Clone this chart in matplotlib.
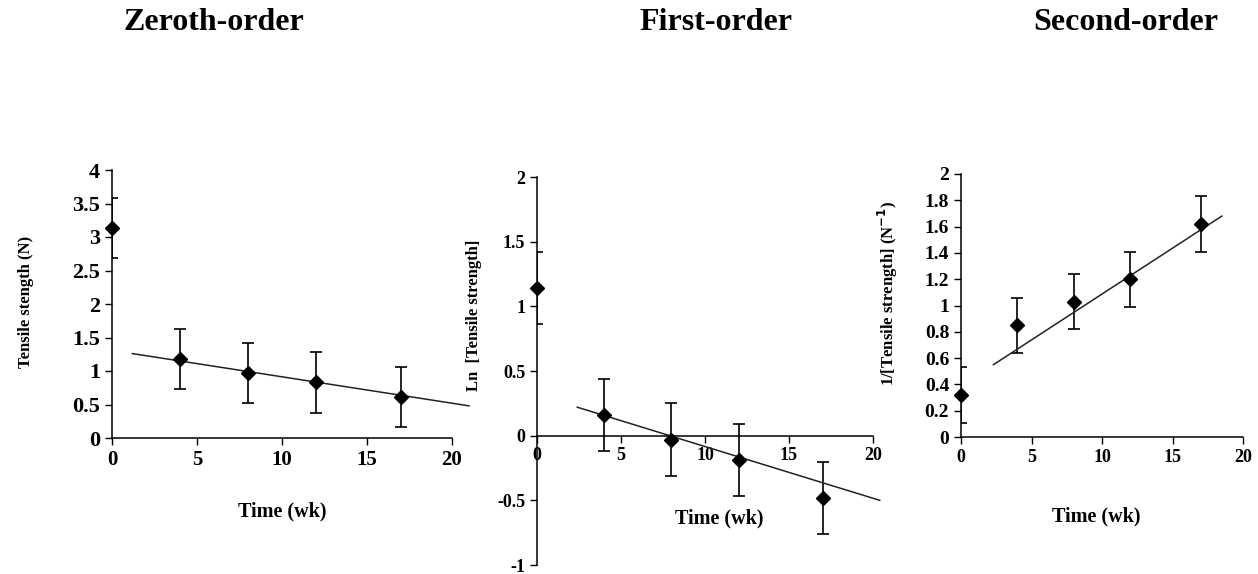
import matplotlib
matplotlib.use('Agg')
import matplotlib.pyplot as plt
import numpy as np

plt.rcParams['font.family'] = ['Liberation Serif', 'DejaVu Serif']
plt.rcParams['font.weight'] = 'bold'

# data
weeks = [0, 4, 8, 12, 17]

tensile = [3.13, 1.18, 0.97, 0.83, 0.61]
tensile_err = [0.45, 0.45, 0.45, 0.45, 0.45]
zero_fit_x = [1.2, 21.0]
zero_fit_y = [1.26, 0.48]

ln_tensile = [1.14, 0.16, -0.03, -0.19, -0.48]
ln_err = [0.28, 0.28, 0.28, 0.28, 0.28]
first_fit_x = [2.4, 20.4]
first_fit_y = [0.22, -0.50]

inv_tensile = [0.32, 0.85, 1.03, 1.20, 1.62]
inv_err = [0.21, 0.21, 0.21, 0.21, 0.21]
second_fit_x = [2.3, 18.5]
second_fit_y = [0.55, 1.68]

titles = ['Zeroth-order', 'First-order', 'Second-order']
ylabels = ['Tensile stength (N)', 'Ln  [Tensile strength]',
           '1/[Tensile strength] (N$^{\\mathbf{-1}}$)']

W, H = 1258, 574
fig = plt.figure(figsize=(W / 100, H / 100), dpi=100)


def px_axes(x0, x1, ytop, ybot):
    return fig.add_axes([x0 / W, 1 - ybot / H, (x1 - x0) / W, (ybot - ytop) / H])


def style(ax, fx, fy):
    for s in ['top', 'right']:
        ax.spines[s].set_visible(False)
    for s in ['left', 'bottom']:
        ax.spines[s].set_linewidth(1.1)
    ax.tick_params(direction='out', length=5, width=1.0)
    ax.tick_params(axis='x', labelsize=fx)
    ax.tick_params(axis='y', labelsize=fy)
    ax.set_xlim(0, 20)
    ax.set_xticks([0, 5, 10, 15, 20])
    ax.yaxis.set_major_formatter(matplotlib.ticker.FormatStrFormatter('%g'))


def draw(ax, y, err, fx, fy):
    ax.errorbar(weeks, y, yerr=err, fmt='none', ecolor='black',
                elinewidth=1.2, capsize=4, capthick=1.2)
    ax.plot(weeks, y, 'D', color='black', markersize=7, clip_on=False, zorder=5)
    ax.plot(fx, fy, '-', color='#222222', linewidth=1.1, clip_on=False)


# Zeroth-order
ax1 = px_axes(112, 452, 170, 438)
draw(ax1, tensile, tensile_err, zero_fit_x, zero_fit_y)
ax1.set_ylim(0, 4)
ax1.set_yticks(np.arange(0, 4.01, 0.5))
style(ax1, 15, 16)

# First-order
ax2 = px_axes(537, 873, 177, 565)
draw(ax2, ln_tensile, ln_err, first_fit_x, first_fit_y)
ax2.set_ylim(-1, 2)
ax2.set_yticks(np.arange(-1, 2.01, 0.5))
style(ax2, 13, 13)
ax2.spines['bottom'].set_position(('data', 0))

# Second-order
ax3 = px_axes(961, 1243, 174, 437)
draw(ax3, inv_tensile, inv_err, second_fit_x, second_fit_y)
ax3.set_ylim(0, 2)
ax3.set_yticks(np.arange(0, 2.01, 0.2))
style(ax3, 13, 14)

for x, t in zip([214, 716, 1126], titles):
    fig.text(x / W, 1 - 23 / H, t, ha='center', va='center',
             fontsize=23, fontweight='bold')

for (x, y), t in zip([(26, 302), (474, 315), (888, 293)], ylabels):
    fig.text(x / W, 1 - y / H, t, ha='center', va='center', rotation=90,
             fontsize=12, fontweight='bold')

for x, y in [(282, 511), (719, 518), (1096, 516)]:
    fig.text(x / W, 1 - y / H, 'Time (wk)', ha='center', va='center',
             fontsize=14.5, fontweight='bold')

fig.savefig('out.png', dpi=100)
